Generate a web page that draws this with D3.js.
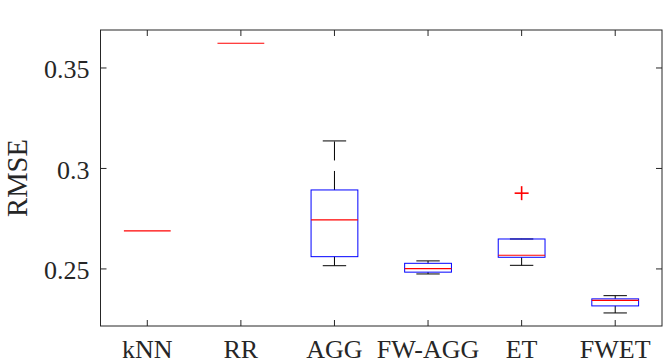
<!DOCTYPE html>
<html>
<head>
<meta charset="utf-8">
<script src="https://cdn.jsdelivr.net/npm/d3@7"></script>
<style>
  html, body { margin: 0; padding: 0; background: #fff; }
  svg { display: block; }
  text { font-family: "Liberation Serif", "Times New Roman", serif; fill: #262626; }
</style>
</head>
<body>
<svg id="chart" width="664" height="364"></svg>
<script>
const categories = ["kNN", "RR", "AGG", "FW-AGG", "ET", "FWET"];
const whiskerLow  = [0.2689, 0.3623, 0.2516, 0.2475, 0.2518, 0.2281];
const q1          = [0.2689, 0.3623, 0.2561, 0.2484, 0.2558, 0.2316];
const medians     = [0.2689, 0.3623, 0.2744, 0.2502, 0.2568, 0.2344];
const q3          = [0.2689, 0.3623, 0.2893, 0.2528, 0.2649, 0.2351];
const whiskerHigh = [0.2689, 0.3623, 0.3137, 0.2540, 0.2649, 0.2367];
const outlierCats   = ["ET"];
const outlierValues = [0.2877];
const yTicks = [0.25, 0.3, 0.35];
const yTickLabels = ["0.25", "0.3", "0.35"];
const yLabel = "RMSE";

const svg = d3.select("#chart");
const L = 100.5, R = 662, T = 30, B = 326;
const x = d3.scaleLinear().domain([0.5, categories.length + 0.5]).range([L, R]);
const y = d3.scaleLinear().domain([0.2216, 0.3689]).range([B, T]);
const boxW = 0.25, capW = 0.125, tickLen = 6;
const axisColor = "#262626";

const g = svg.append("g");

// boxes
categories.forEach((c, i) => {
  const xi = i + 1;
  const gg = g.append("g");
  const collapsed = (q3[i] - q1[i]) === 0 && whiskerHigh[i] === whiskerLow[i];
  if (!collapsed) {
    // whiskers (dashed)
    gg.append("line")
      .attr("x1", x(xi)).attr("x2", x(xi))
      .attr("y1", y(q3[i])).attr("y2", y(whiskerHigh[i]))
      .attr("stroke", "#000").attr("stroke-width", 1)
      .attr("stroke-dasharray", "19,10.5");
    gg.append("line")
      .attr("x1", x(xi)).attr("x2", x(xi))
      .attr("y1", y(q1[i])).attr("y2", y(whiskerLow[i]))
      .attr("stroke", "#000").attr("stroke-width", 1)
      .attr("stroke-dasharray", "19,10.5");
    // caps
    [whiskerHigh[i], whiskerLow[i]].forEach(v => {
      gg.append("line")
        .attr("x1", x(xi - capW)).attr("x2", x(xi + capW))
        .attr("y1", y(v)).attr("y2", y(v))
        .attr("stroke", "#000").attr("stroke-width", 1);
    });
    // box
    gg.append("rect")
      .attr("x", x(xi - boxW)).attr("width", x(xi + boxW) - x(xi - boxW))
      .attr("y", y(q3[i])).attr("height", Math.max(0, y(q1[i]) - y(q3[i])))
      .attr("fill", "none").attr("stroke", "#0000ff").attr("stroke-width", 1);
  }
  // median
  gg.append("line")
    .attr("x1", x(xi - boxW)).attr("x2", x(xi + boxW))
    .attr("y1", y(medians[i])).attr("y2", y(medians[i]))
    .attr("stroke", "#ff0000").attr("stroke-width", 1.2);
});

// outliers
outlierCats.forEach((c, k) => {
  const xi = categories.indexOf(c) + 1;
  const cx = x(xi), cy = y(outlierValues[k]), s = 7;
  g.append("line").attr("x1", cx - s).attr("x2", cx + s).attr("y1", cy).attr("y2", cy)
    .attr("stroke", "#ff0000").attr("stroke-width", 1.6);
  g.append("line").attr("x1", cx).attr("x2", cx).attr("y1", cy - s).attr("y2", cy + s)
    .attr("stroke", "#ff0000").attr("stroke-width", 1.6);
});

// axes frame
svg.append("rect")
  .attr("x", L).attr("y", T).attr("width", R - L).attr("height", B - T)
  .attr("fill", "none").attr("stroke", axisColor).attr("stroke-width", 1);

// x ticks (bottom & top, inward)
const xt = d3.range(1, categories.length + 1);
xt.forEach(v => {
  svg.append("line").attr("x1", x(v)).attr("x2", x(v)).attr("y1", B).attr("y2", B - tickLen)
    .attr("stroke", axisColor).attr("stroke-width", 1);
  svg.append("line").attr("x1", x(v)).attr("x2", x(v)).attr("y1", T).attr("y2", T + tickLen)
    .attr("stroke", axisColor).attr("stroke-width", 1);
});
svg.append("g").selectAll("text").data(categories).join("text")
  .attr("x", (d, i) => x(i + 1)).attr("y", 358)
  .attr("text-anchor", "middle").attr("font-size", "26px")
  .text(d => d);

// y ticks (left & right, inward)
yTicks.forEach((v, i) => {
  svg.append("line").attr("x1", L).attr("x2", L + tickLen).attr("y1", y(v)).attr("y2", y(v))
    .attr("stroke", axisColor).attr("stroke-width", 1);
  svg.append("line").attr("x1", R).attr("x2", R - tickLen).attr("y1", y(v)).attr("y2", y(v))
    .attr("stroke", axisColor).attr("stroke-width", 1);
  svg.append("text").attr("x", 89.5).attr("y", y(v)).attr("dy", "0.4em")
    .attr("text-anchor", "end").attr("font-size", "26px")
    .text(yTickLabels[i]);
});

// y label
svg.append("text")
  .attr("transform", "translate(27,178) rotate(-90)")
  .attr("text-anchor", "middle").attr("font-size", "28.6px")
  .text(yLabel);
</script>
</body>
</html>
